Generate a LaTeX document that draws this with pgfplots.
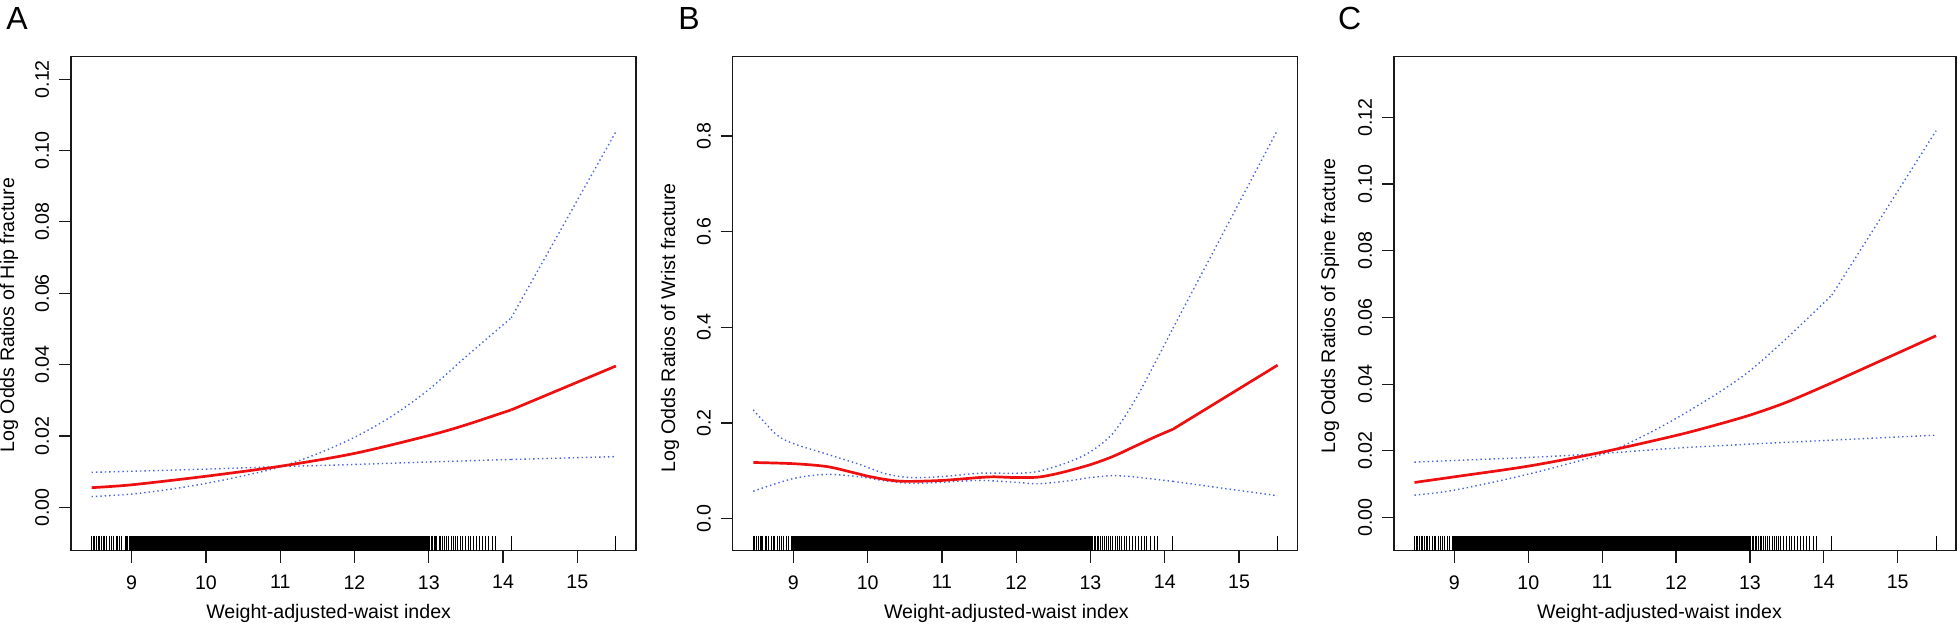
\documentclass[border=0pt]{standalone}
\usepackage{fontspec}
\setmainfont{Liberation Sans}
\usepackage{pgfplots}
\pgfplotsset{compat=1.18}
\usepackage{pgfplotstable}

\definecolor{fitred}{RGB}{238,16,16}
\definecolor{ciblue}{RGB}{70,100,225}

% rug positions of the sparse observations (dense block 8.98--13.02 drawn as an area)
\pgfplotstableread{
x r
8.46 0
8.48 0
8.50 0
8.53 0
8.55 0
8.57 0
8.59 0
8.62 0
8.64 0
8.66 0
8.70 0
8.73 0
8.75 0
8.79 0
8.81 0
8.84 0
8.86 0
8.91 0
8.93 0
8.94 0
8.97 0
13.03 0
13.05 0
13.07 0
13.09 0
13.11 0
13.14 0
13.16 0
13.19 0
13.21 0
13.24 0
13.27 0
13.30 0
13.33 0
13.36 0
13.39 0
13.42 0
13.46 0
13.49 0
13.53 0
13.56 0
13.60 0
13.64 0
13.68 0
13.72 0
13.76 0
13.81 0
13.86 0
13.90 0
14.11 0
15.52 0
}\rugdata

\pgfplotsset{
  wwi/.style={
    scale only axis, height=247bp,
    xmin=8.183, xmax=15.79,
    xtick={9,10,11,12,13,14,15},
    tick align=outside, xtick pos=bottom, ytick pos=left,
    major tick length=6bp,
    axis line style={black!90, line width=0.6bp},
    tick style={black!90, line width=0.6bp},
    ticklabel style={font=\fontsize{9.8bp}{11bp}\selectfont},
    label style={font=\fontsize{9.8bp}{11bp}\selectfont},
    /pgf/number format/assume math mode=true,
    yticklabel style={rotate=90, anchor=south, inner sep=0pt},
    xticklabel style={anchor=north, inner sep=0pt},
    xticklabel shift=6.2bp,
    yticklabel shift=4.8bp,
    xlabel={Weight-adjusted-waist index},
  },
  ci/.style={ciblue, line width=0.7bp, dash pattern=on 0.7bp off 1.5bp},
  fit/.style={fitred, line width=1.35bp},
  rugmark/.style={only marks, mark=|, mark size=3.675bp, mark options={black, line width=0.45bp}},
}

\begin{document}
\begin{tikzpicture}
\useasboundingbox (0,0) rectangle (980bp,313bp);

\node[anchor=base west, inner sep=0pt, font=\fontsize{16bp}{18bp}\selectfont] at (3bp,298.2bp) {A};
\node[anchor=base west, inner sep=0pt, font=\fontsize{16bp}{18bp}\selectfont] at (339bp,298.2bp) {B};
\node[anchor=base west, inner sep=0pt, font=\fontsize{16bp}{18bp}\selectfont] at (668.8bp,298.2bp) {C};

% ---------------- Panel A ----------------
\begin{axis}[wwi, width=282.5bp, at={(35.5bp,37.65bp)}, anchor=south west,
  ymin=-0.01217, ymax=0.1263,
  ytick={0,0.02,0.04,0.06,0.08,0.10,0.12},
  yticklabel style={/pgf/number format/.cd, fixed, fixed zerofill, precision=2},
  ylabel={Log Odds Ratios of Hip fracture},
  ylabel style={at={(axis description cs:-0.1097,0.4771)}, anchor=center, inner sep=0pt},
  xlabel style={at={(axis description cs:0.456,0)}, anchor=north, inner sep=0pt, yshift=-26.6bp},
]
\addplot[fill=black, draw=none] coordinates {(8.98,-0.01217) (13.02,-0.01217) (13.02,-0.00805) (8.98,-0.00805)} -- cycle;
\addplot[rugmark] table[x=x, y expr=-0.0101] {\rugdata};
\addplot[ci, smooth] coordinates {(8.46,0.0098) (9,0.0101) (10,0.0107) (11,0.0114) (12,0.0120) (13,0.0127) (14.11,0.0134)};
\addplot[ci] coordinates {(14.11,0.0134) (15.52,0.0142)};
\addplot[ci, smooth] coordinates {(8.46,0.0030) (9,0.0037) (9.5,0.0050) (10,0.0067) (10.5,0.0088) (11,0.0113) (11.5,0.0150) (12,0.0196) (12.5,0.0255) (13,0.0330) (13.5,0.0422) (14.11,0.0531)};
\addplot[ci] coordinates {(14.11,0.0531) (15.52,0.1053)};
\addplot[fit, smooth] coordinates {(8.46,0.0055) (9,0.0063) (10,0.0087) (11,0.0115) (12,0.0151) (13,0.0201) (13.5,0.0231) (14.11,0.0273)};
\addplot[fit] coordinates {(14.11,0.0273) (15.52,0.0396)};
\end{axis}

% ---------------- Panel B ----------------
\begin{axis}[wwi, width=282.5bp, at={(366.35bp,37.65bp)}, anchor=south west,
  ymin=-0.0669, ymax=0.9657,
  ytick={0,0.2,0.4,0.6,0.8},
  yticklabel style={/pgf/number format/.cd, fixed, fixed zerofill, precision=1},
  ylabel={Log Odds Ratios of Wrist fracture},
  ylabel style={at={(axis description cs:-0.1109,0.4512)}, anchor=center, inner sep=0pt},
  xlabel style={at={(axis description cs:0.4844,0)}, anchor=north, inner sep=0pt, yshift=-26.6bp},
]
\addplot[fill=black, draw=none] coordinates {(8.98,-0.0669) (13.02,-0.0669) (13.02,-0.0362) (8.98,-0.0362)} -- cycle;
\addplot[rugmark] table[x=x, y expr=-0.0515] {\rugdata};
\addplot[ci, smooth] coordinates {(8.46,0.2275) (8.77,0.176) (9,0.157) (9.45,0.135) (9.9,0.113) (10.24,0.094) (10.58,0.086) (11,0.088) (11.5,0.095) (12,0.095) (12.3,0.099) (12.7,0.118) (13,0.140) (13.3,0.178) (13.6,0.248) (13.9,0.335) (14.11,0.398)};
\addplot[ci] coordinates {(14.11,0.398) (15.52,0.813)};
\addplot[ci, smooth] coordinates {(8.46,0.0575) (9,0.084) (9.45,0.0925) (9.9,0.0875) (10.24,0.079) (10.58,0.074) (11,0.076) (11.5,0.080) (12,0.076) (12.3,0.073) (12.7,0.079) (13,0.086) (13.3,0.090) (13.58,0.0875) (14.11,0.078)};
\addplot[ci] coordinates {(14.11,0.078) (15.52,0.048)};
\addplot[fit, smooth] coordinates {(8.46,0.1175) (9,0.115) (9.45,0.109) (9.79,0.097) (10.0,0.089) (10.24,0.082) (10.5,0.078) (11,0.080) (11.5,0.086) (11.7,0.0875) (12,0.086) (12.3,0.087) (12.6,0.096) (13,0.113) (13.3,0.130) (13.58,0.150) (13.87,0.171) (14.11,0.187)};
\addplot[fit] coordinates {(14.11,0.187) (15.52,0.321)};
\end{axis}

% ---------------- Panel C ----------------
\begin{axis}[wwi, width=281bp, at={(697bp,37.65bp)}, anchor=south west,
  ymin=-0.00996, ymax=0.1382,
  ytick={0,0.02,0.04,0.06,0.08,0.10,0.12},
  yticklabel style={/pgf/number format/.cd, fixed, fixed zerofill, precision=2},
  ylabel={Log Odds Ratios of Spine fracture},
  ylabel style={at={(axis description cs:-0.114,0.4955)}, anchor=center, inner sep=0pt},
  xlabel style={at={(axis description cs:0.4724,0)}, anchor=north, inner sep=0pt, yshift=-26.6bp},
]
\addplot[fill=black, draw=none] coordinates {(8.98,-0.00996) (13.02,-0.00996) (13.02,-0.00555) (8.98,-0.00555)} -- cycle;
\addplot[rugmark] table[x=x, y expr=-0.00775] {\rugdata};
\addplot[ci, smooth] coordinates {(8.46,0.0166) (9,0.0171) (10,0.0180) (11,0.0192) (12,0.0208) (13,0.0220) (14.11,0.0232)};
\addplot[ci] coordinates {(14.11,0.0232) (15.52,0.0247)};
\addplot[ci, smooth] coordinates {(8.46,0.0067) (9,0.0082) (10,0.0130) (11,0.0190) (11.5,0.0238) (12,0.0297) (12.58,0.0375) (13,0.0440) (13.49,0.0536) (14.11,0.0667)};
\addplot[ci] coordinates {(14.11,0.0667) (15.52,0.116)};
\addplot[fit, smooth] coordinates {(8.46,0.0105) (9,0.0122) (10,0.0154) (11,0.0196) (12,0.0246) (12.5,0.0275) (13,0.0307) (13.5,0.0346) (14.11,0.0404)};
\addplot[fit] coordinates {(14.11,0.0404) (15.52,0.0545)};
\end{axis}
\end{tikzpicture}
\end{document}
